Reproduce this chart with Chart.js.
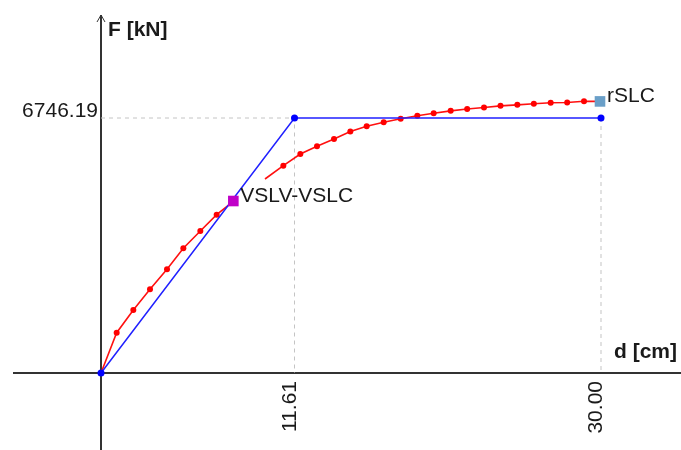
<!DOCTYPE html>
<html>
<head>
    <title>Pushover curve</title>
    <script src="https://cdn.jsdelivr.net/npm/chart.js"></script>
    <style>
        body { margin: 0; background: #fff; }
        #wrap { width: 681px; height: 450px; position: relative; }
    </style>
</head>
<body>
    <div id="wrap"><canvas id="pushChart"></canvas></div>

    <script>
    // capacity curve, first branch (d in cm, F in kN)
    const curveD1 = [0, 0.94, 1.94, 2.94, 3.96, 4.94, 5.96, 6.94, 7.9];
    const curveF1 = [0, 1066, 1667, 2214, 2743, 3299, 3757, 4188, 4530];

    // capacity curve, second branch
    const curveD2 = [9.84, 10.94, 11.96, 12.96, 13.98, 14.96, 15.94, 16.96, 17.98, 18.98,
                     19.96, 20.98, 21.97, 22.98, 23.97, 24.98, 25.97, 26.98, 27.97, 28.98, 29.94];
    const curveF2 = [5132, 5485, 5794, 5998, 6191, 6389, 6527, 6633, 6728, 6807,
                     6871, 6935, 6984, 7024, 7068, 7094, 7125, 7151, 7156, 7190, 7185];

    // bilinear equivalent system
    const bilinD = [0, 11.61, 30];
    const bilinF = [0, 6746.19, 6746.19];

    // tick labels
    const dTicks = [11.61, 30];
    const fTicks = [6746.19];

    // limit state markers
    const markerNames = ['VSLV-VSLC', 'rSLC'];
    const markerD = [7.94, 29.94];
    const markerF = [4550, 7185];
    const markerColors = ['#c000c8', '#6a9fc8'];

    const toPts = (xs, ys) => xs.map((x, i) => ({ x: x, y: ys[i] }));
    const innerDots = (n, r) => Array.from({ length: n }, (_, i) => (i === 0 || i === n - 1) ? 0 : r);

    // dashed guide lines from the axes to the bilinear corners
    const guideA = [{ x: 0, y: fTicks[0] }, { x: dTicks[0], y: fTicks[0] }, { x: dTicks[0], y: 0 }];
    const guideB = [{ x: dTicks[1], y: fTicks[0] }, { x: dTicks[1], y: 0 }];

    const FONT = '"Liberation Sans", Arial, sans-serif';

    const axesPlugin = {
        id: 'axes',
        beforeDatasetsDraw(chart) {
            const c = chart.ctx, xs = chart.scales.x, ys = chart.scales.y;
            const x0 = xs.getPixelForValue(0), y0 = ys.getPixelForValue(0);
            c.save();
            c.strokeStyle = '#333';
            c.lineWidth = 2;
            c.beginPath();
            c.moveTo(13, y0); c.lineTo(chart.width, y0);
            c.moveTo(x0, chart.height); c.lineTo(x0, 15);
            c.stroke();
            c.lineWidth = 1;
            c.beginPath();
            c.moveTo(x0 - 4, 22); c.lineTo(x0, 15); c.lineTo(x0 + 4, 22);
            c.stroke();
            c.restore();
        },
        afterDatasetsDraw(chart) {
            const c = chart.ctx, xs = chart.scales.x, ys = chart.scales.y;
            const x0 = xs.getPixelForValue(0), y0 = ys.getPixelForValue(0);
            c.save();
            c.fillStyle = '#1a1a1a';
            c.font = '21px ' + FONT;

            // F tick
            c.textAlign = 'right';
            c.textBaseline = 'alphabetic';
            fTicks.forEach(v => c.fillText(v.toFixed(2), x0 - 3, ys.getPixelForValue(v) - 1));

            // d ticks, rotated
            dTicks.forEach(v => {
                c.save();
                c.translate(xs.getPixelForValue(v) + 1, y0 + 8);
                c.rotate(-Math.PI / 2);
                c.textAlign = 'right';
                c.fillText(v.toFixed(2), 0, 0);
                c.restore();
            });

            // marker labels
            c.textAlign = 'left';
            markerNames.forEach((name, i) => {
                c.fillText(name, xs.getPixelForValue(markerD[i]) + 7, ys.getPixelForValue(markerF[i]) + 1);
            });

            // axis titles
            c.font = 'bold 21px ' + FONT;
            c.textAlign = 'left';
            c.fillText('F [kN]', x0 + 7, 36);
            c.textAlign = 'right';
            c.fillText('d [cm]', chart.width - 4, y0 - 15);
            c.restore();
        }
    };

    const guideStyle = {
        showLine: true,
        borderColor: '#c4c4c4',
        borderWidth: 1,
        borderDash: [4, 4],
        pointRadius: 0
    };

    // first dataset in the list is drawn on top
    const ctx = document.getElementById('pushChart').getContext('2d');
    const chart = new Chart(ctx, {
        type: 'scatter',
        data: {
            datasets: [
                {
                    data: toPts(markerD, markerF),
                    showLine: false,
                    pointStyle: 'rect',
                    pointRadius: 7.5,
                    pointBorderWidth: 0,
                    backgroundColor: markerColors
                },
                {
                    data: toPts(bilinD, bilinF),
                    showLine: true,
                    borderColor: '#2020ff',
                    backgroundColor: '#0000ff',
                    borderWidth: 1.5,
                    pointRadius: 3.5,
                    pointBorderWidth: 0
                },
                {
                    data: toPts(curveD1, curveF1),
                    showLine: true,
                    borderColor: '#ff1010',
                    backgroundColor: '#ff0000',
                    borderWidth: 1.6,
                    pointRadius: innerDots(curveD1.length, 3),
                    pointBorderWidth: 0
                },
                {
                    data: toPts(curveD2, curveF2),
                    showLine: true,
                    borderColor: '#ff1010',
                    backgroundColor: '#ff0000',
                    borderWidth: 1.6,
                    pointRadius: innerDots(curveD2.length, 3),
                    pointBorderWidth: 0
                },
                Object.assign({ data: guideA }, guideStyle),
                Object.assign({ data: guideB }, guideStyle)
            ]
        },
        options: {
            responsive: true,
            maintainAspectRatio: false,
            animation: false,
            layout: { padding: 0, autoPadding: false },
            plugins: {
                legend: { display: false },
                tooltip: { enabled: false }
            },
            scales: {
                x: { type: 'linear', display: false, min: -6.06, max: 34.8 },
                y: { type: 'linear', display: false, min: -2037, max: 9868 }
            }
        },
        plugins: [axesPlugin]
    });
    </script>
</body>
</html>
